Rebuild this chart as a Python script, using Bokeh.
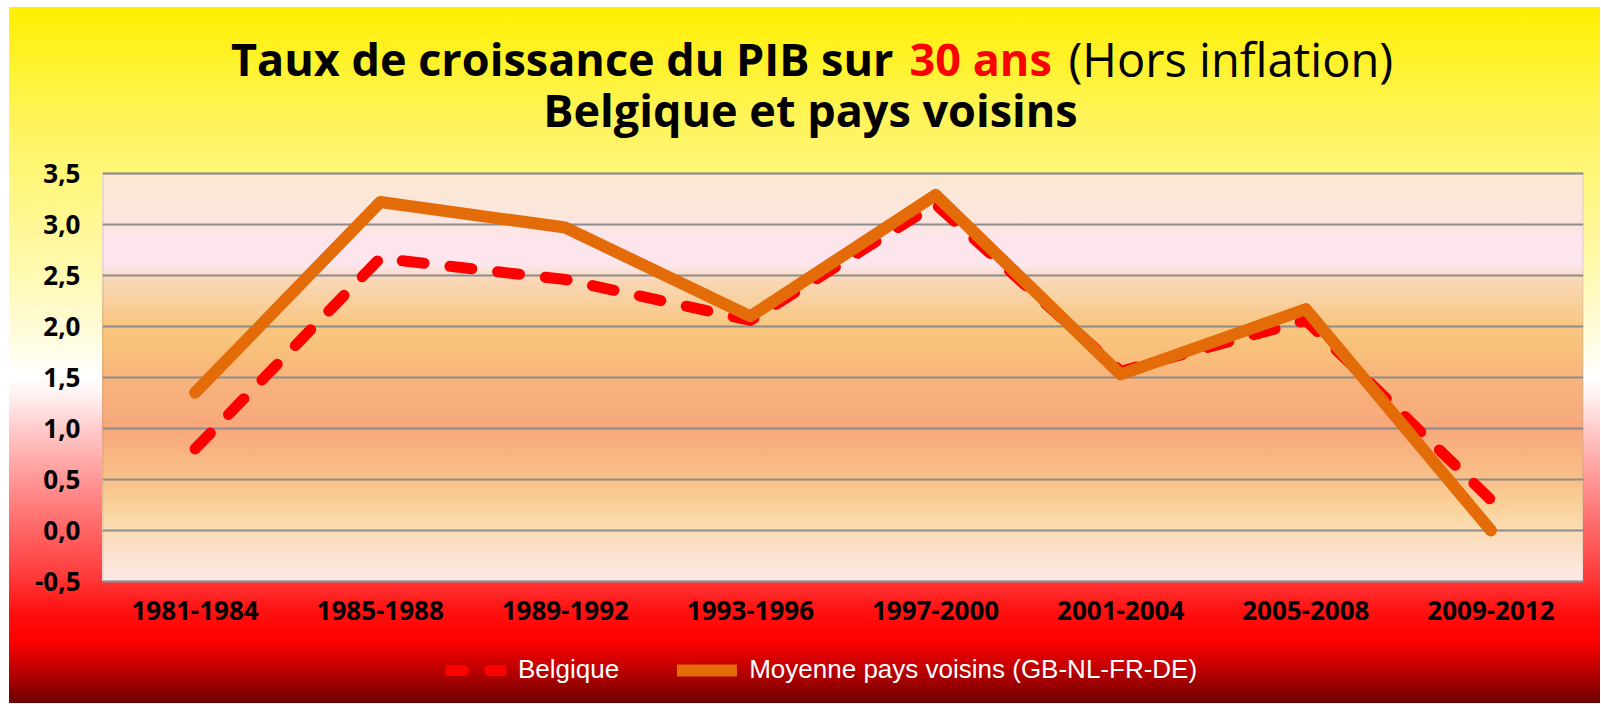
from bokeh.plotting import figure
from bokeh.models import (FactorRange, Range1d, FixedTicker, Label, Legend, LegendItem,
                          ColumnDataSource, CustomJSTickFormatter, BoxAnnotation)
from bokeh.embed import file_html
from bokeh.resources import INLINE

# ---------------- data ----------------
periods = ["1981-1984", "1985-1988", "1989-1992", "1993-1996",
           "1997-2000", "2001-2004", "2005-2008", "2009-2012"]
belgique = [0.80, 2.67, 2.46, 2.06, 3.20, 1.56, 2.06, 0.30]
voisins = [1.35, 3.22, 2.97, 2.10, 3.29, 1.53, 2.17, 0.00]
y_ticks = [-0.5, 0.0, 0.5, 1.0, 1.5, 2.0, 2.5, 3.0, 3.5]

series_names = ["Belgique", "Moyenne pays voisins (GB-NL-FR-DE)"]
title_part1 = "Taux de croissance du PIB sur"
title_part2 = "30 ans"
title_part3 = "(Hors inflation)"
title_line2 = "Belgique et pays voisins"

# ---------------- layout (page pixels; figure sits at 0,0) ----------------
M_TOP, M_LEFT = 7, 9            # white strip around the chart
PA_L, PA_R = 102, 1583          # plot-area left / right
PA_T, PA_B = 173, 581           # plot-area top (3.5) / bottom (-0.5)
Y_MIN, Y_MAX = -0.5, 3.5
PX_PER_UNIT = (PA_B - PA_T) / (Y_MAX - Y_MIN)
FIG_W, FIG_H = 1600, 703

FRAME_W = PA_R - PA_L
FRAME_H = FIG_H - M_TOP          # frame spans the whole chart height
LEFT = PA_L
RIGHT = FIG_W - PA_R
y_top = Y_MAX + (PA_T - M_TOP) / PX_PER_UNIT
y_bot = Y_MIN - (FIG_H - PA_B) / PX_PER_UNIT
TEXT_SHIFT = 17                  # renderer baseline correction for labels


def xd(px):
    return (px - PA_L) / (FRAME_W / len(periods))


def yd(py):
    return Y_MAX - (py - TEXT_SHIFT - PA_T) / PX_PER_UNIT


p = figure(x_range=FactorRange(*periods), y_range=Range1d(y_bot, y_top),
           frame_width=FRAME_W, frame_height=FRAME_H,
           min_border_left=LEFT, min_border_top=M_TOP,
           min_border_right=RIGHT, min_border_bottom=0,
           output_backend="svg", toolbar_location=None, title=None)

white = "linear-gradient(#FFFFFF, #FFFFFF)"
outer_grad = ("linear-gradient(to bottom, #FFF000 0%, #FFF22A 7.5%, #FFF45A 16%, #FFF67C 25%, "
              "#FFF9B0 38%, #FFFCDC 47%, #FFFFFF 53%, #FFF0F0 56%, #FFC8C8 61%, #FFA0A0 66.5%, "
              "#FF7070 73.5%, #FF4040 81%, #FF1010 87%, #FF0000 91%, #D00000 94%, #900000 98%, "
              "#6A0000 100%)")
frame_grad = ("linear-gradient(to bottom, #FAE8D0 0%, #FBE6DC 10%, #FDE4EE 17.5%, #FCE6EC 22.5%, "
              "#F9D8B8 26%, #F8C680 37.5%, #F8C07A 43.75%, #F8B47C 50%, #F7A87C 62.5%, "
              "#F9C088 75%, #FAD39C 82.5%, #FBDCB6 87.5%, #FCE8E8 100%)")
p.styles = {
    "background-image": f"{white}, {white}, {frame_grad}, {outer_grad}",
    "background-position": f"0px 0px, 0px 0px, {PA_L}px {PA_T}px, {M_LEFT}px {M_TOP}px",
    "background-size": (f"100% {M_TOP}px, {M_LEFT}px 100%, {FRAME_W}px {PA_B - PA_T}px, "
                        f"{FIG_W - M_LEFT}px {FIG_H - M_TOP}px"),
    "background-repeat": "no-repeat",
}
p.background_fill_alpha = 0
p.border_fill_alpha = 0
p.outline_line_color = None

# plot-area border
p.add_layout(BoxAnnotation(top=Y_MAX, bottom=Y_MIN, fill_alpha=0,
                           line_color="#8C8C8C", line_width=2))

# axes
p.yaxis.ticker = FixedTicker(ticks=y_ticks)
p.yaxis.formatter = CustomJSTickFormatter(code="return tick.toFixed(1).replace('.', ',');")
p.xaxis.fixed_location = Y_MIN
for ax in (p.xaxis, p.yaxis):
    ax.axis_line_color = None
    ax.major_tick_line_color = None
    ax.minor_tick_line_color = None
    ax.major_tick_out = 0
    ax.major_tick_in = 0
    ax.major_label_text_font = "Open Sans"
    ax.major_label_text_font_style = "bold"
    ax.major_label_text_font_size = "26px"
    ax.major_label_text_color = "black"
p.yaxis.major_label_standoff = 22
p.xaxis.major_label_standoff = 19

p.xgrid.visible = False
p.ygrid.grid_line_color = "#8C8C8C"
p.ygrid.grid_line_width = 2

src = ColumnDataSource(dict(period=periods, bel=belgique, vois=voisins))
r_bel = p.line("period", "bel", source=src, line_color="#FF0000", line_width=11,
               line_dash="22 26", line_cap="round", line_join="round")
r_vois = p.line("period", "vois", source=src, line_color="#E36C09", line_width=12,
                line_cap="round", line_join="round")
# legend proxies (same data, hidden) with the legend's dash look
lg_bel = p.line("period", "bel", source=src, line_color="#FF0000", line_width=11,
                line_dash="17 26", line_cap="round", visible=False)
lg_vois = p.line("period", "vois", source=src, line_color="#E36C09", line_width=12,
                 line_cap="round", visible=False)

legend = Legend(items=[LegendItem(label=series_names[0], renderers=[lg_bel]),
                       LegendItem(label=series_names[1], renderers=[lg_vois])],
                location=(344, 18), orientation="horizontal",
                background_fill_alpha=0, border_line_alpha=0, padding=0, margin=0,
                spacing=58, glyph_width=60, glyph_height=30, label_height=30,
                label_standoff=12, label_text_color="white",
                label_text_font="Liberation Sans", label_text_font_size="26px")
p.add_layout(legend)

# title pieces
common = dict(text_baseline="alphabetic", text_font="Open Sans")
p.add_layout(Label(x=xd(893), y=yd(75), text=title_part1, text_align="right",
                   text_font_style="bold", text_color="black", text_font_size="45px", **common))
p.add_layout(Label(x=xd(909), y=yd(75), text=title_part2, text_align="left",
                   text_font_style="bold", text_color="#FF0000", text_font_size="45px", **common))
p.add_layout(Label(x=xd(1068), y=yd(75), text=title_part3, text_align="left",
                   text_font_style="normal", text_color="black", text_font_size="47px", **common))
p.add_layout(Label(x=xd(810), y=yd(126), text=title_line2, text_align="center",
                   text_font_style="bold", text_color="black", text_font_size="45px", **common))

open("out.html", "w").write(file_html(p, INLINE))
